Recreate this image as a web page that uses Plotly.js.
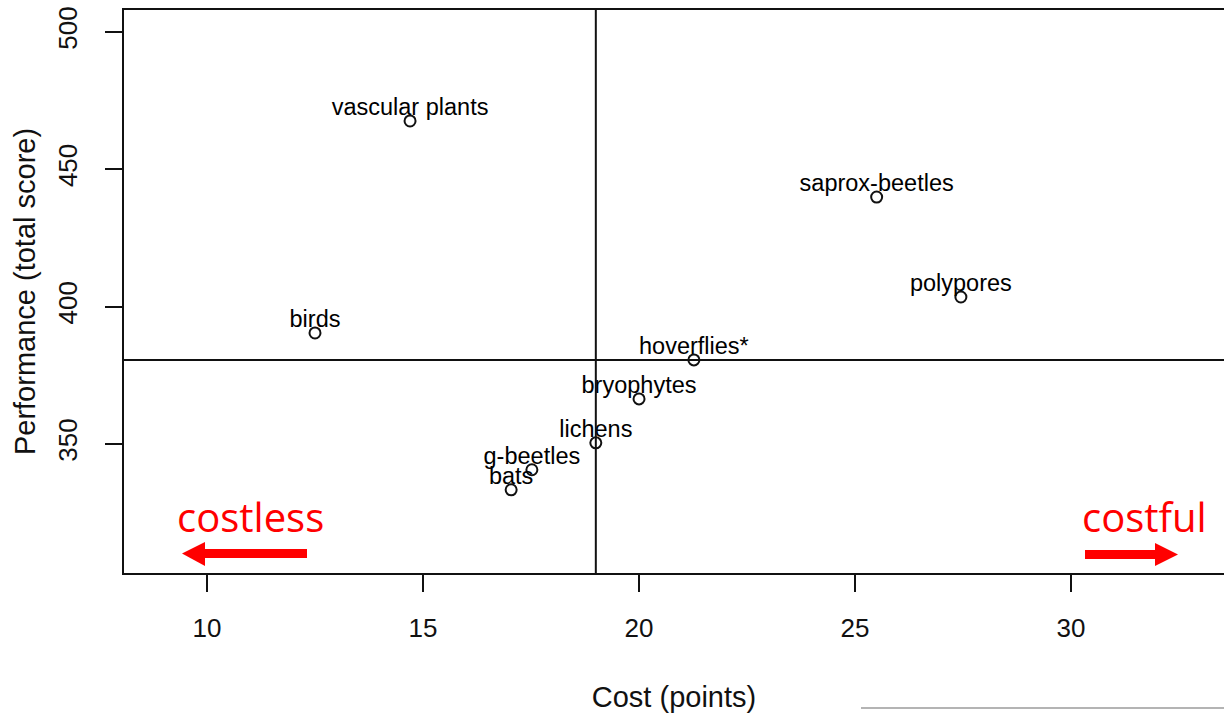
<!DOCTYPE html>
<html>
<head>
<meta charset="utf-8">
<script src="https://cdn.plot.ly/plotly-3.0.1.min.js"></script>
<style>html,body{margin:0;padding:0;background:#fff;}#chart{width:1224px;height:714px;}</style>
</head>
<body>
<div id="chart"></div>
<script>
// Data
const groups = ["vascular plants", "saprox-beetles", "polypores", "birds", "hoverflies*", "bryophytes", "lichens", "g-beetles", "bats"];
const cost = [14.7, 25.5, 27.45, 12.5, 21.27, 20.0, 19.0, 17.52, 17.04];
const performance = [467.6, 439.9, 403.5, 390.4, 380.6, 366.4, 350.4, 340.6, 333.3];
const refCost = 19.0;          // vertical reference line
const refPerformance = 380.6;  // horizontal reference line
const xTicks = [10, 15, 20, 25, 30];
const yTicks = [350, 400, 450, 500];
const sideLabels = ["costless", "costful"];

const axisFont = {family: "Liberation Sans, Arial, sans-serif", size: 26, color: "#111"};
const titleFont = {family: "Liberation Sans, Arial, sans-serif", size: 29, color: "#111"};

const markers = {
  type: "scatter",
  mode: "markers",
  x: cost,
  y: performance,
  marker: {symbol: "circle-open", size: 11, color: "#111", line: {width: 2, color: "#111"}},
  cliponaxis: false,
  hoverinfo: "skip"
};
const labels = {
  type: "scatter",
  mode: "text",
  x: cost,
  y: performance,
  text: groups,
  textposition: "top center",
  textfont: {family: "Liberation Sans, Arial, sans-serif", size: 23.5, color: "#000"},
  marker: {size: 4},
  cliponaxis: false,
  hoverinfo: "skip"
};

// helpers to convert pixel positions (within the 1224x714 page) to paper coords for decorations
const L = 124, R = 0, T = 10, B = 141;
const PW = 1224 - L - R, PH = 714 - T - B;
const px = v => (v - L) / PW;
const py = v => (714 - B - v) / PH;

const red = "#ff0000";
const shapes = [
  {type: "line", xref: "x", yref: "paper", x0: refCost, x1: refCost, y0: 0, y1: 1, line: {color: "#111", width: 2}},
  {type: "line", xref: "paper", yref: "y", x0: 0, x1: 1, y0: refPerformance, y1: refPerformance, line: {color: "#111", width: 2}},
  // left arrow
  {type: "rect", xref: "paper", yref: "paper", x0: px(203), x1: px(307), y0: py(549), y1: py(558), fillcolor: red, line: {width: 0}},
  {type: "path", xref: "paper", yref: "paper",
   path: `M ${px(182)} ${py(553.5)} L ${px(205)} ${py(542)} L ${px(205)} ${py(566)} Z`, fillcolor: red, line: {width: 0}},
  // right arrow
  {type: "rect", xref: "paper", yref: "paper", x0: px(1085), x1: px(1157), y0: py(550), y1: py(559), fillcolor: red, line: {width: 0}},
  {type: "path", xref: "paper", yref: "paper",
   path: `M ${px(1178)} ${py(554.5)} L ${px(1155)} ${py(543)} L ${px(1155)} ${py(566)} Z`, fillcolor: red, line: {width: 0}},
  // faint grey rule at the bottom right
  {type: "line", xref: "paper", yref: "paper", x0: px(861), x1: 1.0, y0: py(708), y1: py(708), line: {color: "#b4b4b4", width: 2}}
];

const annotations = [
  {xref: "paper", yref: "paper", x: px(250), y: py(516), text: sideLabels[0], showarrow: false,
   xanchor: "center", yanchor: "middle", font: {family: "Open Sans, sans-serif", size: 40, color: red}},
  {xref: "paper", yref: "paper", x: px(1144), y: py(516), text: sideLabels[1], showarrow: false,
   xanchor: "center", yanchor: "middle", font: {family: "Open Sans, sans-serif", size: 40, color: red}}
];

const layout = {
  width: 1224, height: 714,
  margin: {l: L, r: R, t: T, b: B, pad: 0},
  paper_bgcolor: "#fff", plot_bgcolor: "#fff",
  showlegend: false,
  xaxis: {
    range: [8.079, 33.54], tickvals: xTicks, ticktext: xTicks.map(String),
    showgrid: false, zeroline: false, showline: true, mirror: true, linecolor: "#111", linewidth: 2,
    ticks: "outside", ticklen: 17, tickwidth: 2, tickcolor: "#111", tickfont: axisFont, ticklabelstandoff: 14,
    title: {text: "Cost (points)", font: titleFont, standoff: 44}
  },
  yaxis: {
    range: [303.0, 508.0], tickvals: yTicks, ticktext: yTicks.map(String), tickangle: -90,
    showgrid: false, zeroline: false, showline: true, mirror: false, linecolor: "#111", linewidth: 2,
    ticks: "outside", ticklen: 17, tickwidth: 2, tickcolor: "#111", tickfont: axisFont, ticklabelstandoff: 18,
    title: {text: "Performance (total score)", font: titleFont, standoff: 8}
  },
  shapes: shapes,
  annotations: annotations
};

Plotly.newPlot("chart", [markers, labels], layout, {displayModeBar: false, staticPlot: true});
</script>
</body>
</html>
